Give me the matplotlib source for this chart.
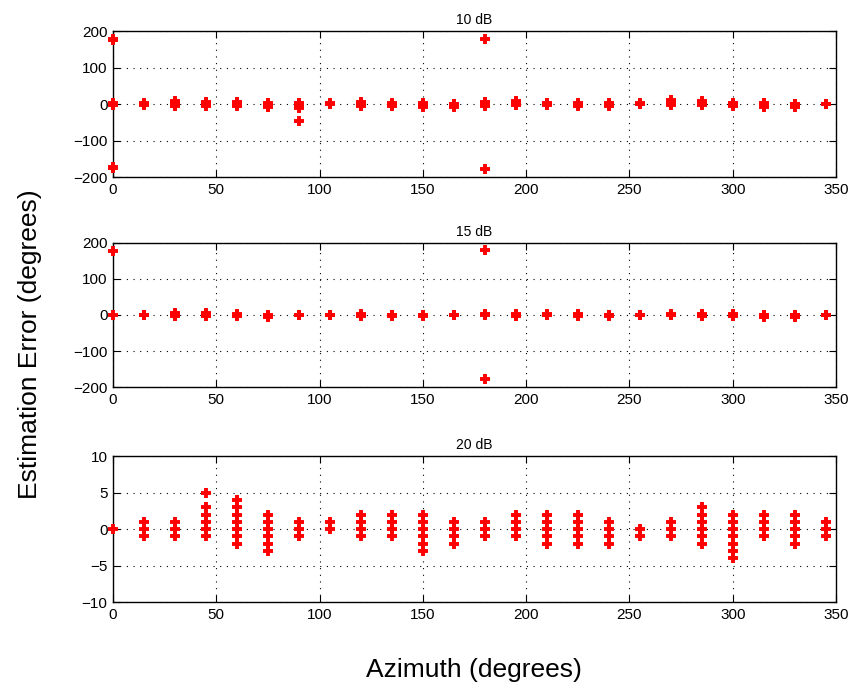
import numpy as np
import matplotlib.pyplot as plt

plt.rcParams['font.family'] = ['Liberation Sans', 'DejaVu Sans']

azimuths = list(range(0, 360, 15))

# estimation errors (degrees) per azimuth, one list per azimuth
err_10db = [
    [175, 178, 0, 2, -2, -172, -176],
    [0, 2, -2],
    [-6, -2, 0, 3, 7],
    [-5, 0, 3, 6],
    [-5, -1, 0, 2, 5],
    [-9, -5, -2, 0, 2],
    [-11, -7, -3, 0, 2, -47],
    [0, 2],
    [-5, 0, 3, 6],
    [-5, -1, 0, 4],
    [-7, -3, 0, 2],
    [-8, -4, -1, 1],
    [178, -5, 0, 4, 6, -178],
    [-3, 0, 4, 7],
    [-2, 0, 2],
    [-5, -1, 0, 3],
    [-6, -2, 0, 2],
    [-1, 0, 2],
    [-2, 2, 6, 10],
    [-3, 0, 3, 8],
    [-5, -1, 0, 4],
    [-7, -3, 0, 2],
    [-8, -4, -1, 1],
    [0, 1],
]

err_15db = [
    [176, 0],
    [0, 1],
    [-3, 0, 3, 6],
    [-3, 0, 3, 6],
    [-3, 0, 3],
    [-6, -2, 0],
    [-1, 0, 1],
    [0, 1],
    [-2, 0, 2],
    [-3, 0, 1],
    [-3, 0, 1],
    [-1, 0, 1],
    [178, 0, 2, -178],
    [-2, 0, 2],
    [-1, 0, 2],
    [-2, 0, 2],
    [-3, 0, 1],
    [0, 1],
    [-1, 0, 2],
    [-2, 0, 3],
    [-3, 0, 3],
    [-5, -1, 1],
    [-5, -1, 1],
    [0, 1],
]

err_20db = [
    [0],
    [1, 0, -1],
    [1, 0, -1],
    [5, 3, 2, 1, 0, -1],
    [4, 3, 2, 1, 0, -1, -2],
    [2, 1, 0, -1, -2, -3],
    [1, 0, -1],
    [1, 0],
    [2, 1, 0, -1],
    [2, 1, 0, -1],
    [2, 1, 0, -1, -2, -3],
    [1, 0, -1, -2],
    [1, 0, -1],
    [2, 1, 0, -1],
    [2, 1, 0, -1, -2],
    [2, 1, 0, -1, -2],
    [1, 0, -1, -2],
    [0, -1],
    [1, 0, -1],
    [3, 2, 1, 0, -1, -2],
    [2, 1, 0, -1, -2, -3, -4],
    [2, 1, 0, -1],
    [2, 1, 0, -1, -2],
    [1, 0, -1],
]

panels = [
    ('10 dB', err_10db, [-200, -100, 0, 100, 200]),
    ('15 dB', err_15db, [-200, -100, 0, 100, 200]),
    ('20 dB', err_20db, [-10, -5, 0, 5, 10]),
]

fig = plt.figure(figsize=(8.65, 6.89), dpi=100)
rects = [
    [0.1306, 0.743, 0.836, 0.212],
    [0.1306, 0.438, 0.836, 0.210],
    [0.1306, 0.126, 0.836, 0.212],
]

for rect, (title, errs, yt) in zip(rects, panels):
    ax = fig.add_axes(rect)
    xs = []
    ys = []
    for az, vals in zip(azimuths, errs):
        for v in vals:
            xs.append(az)
            ys.append(v)
    ax.plot(xs, ys, '+', color='red', markersize=7.5, markeredgewidth=2.8,
            clip_on=False, zorder=3)
    ax.set_xlim(0, 350)
    ax.set_ylim(yt[0], yt[-1])
    ax.set_xticks(range(0, 351, 50))
    ax.set_yticks(yt)
    ax.set_title(title, fontsize=10, pad=5)
    ax.grid(True, linestyle=(0, (1, 5)), color='black', linewidth=0.8)
    ax.tick_params(direction='in', top=True, right=True, labelsize=11,
                   length=5, pad=4)
    for s in ax.spines.values():
        s.set_linewidth(1.0)

fig.text(0.035, 0.5, 'Estimation Error (degrees)', rotation=90,
         va='center', ha='center', fontsize=19)
fig.text(0.548, 0.028, 'Azimuth (degrees)', ha='center', va='center',
         fontsize=19)

fig.savefig('out.png', dpi=100)
